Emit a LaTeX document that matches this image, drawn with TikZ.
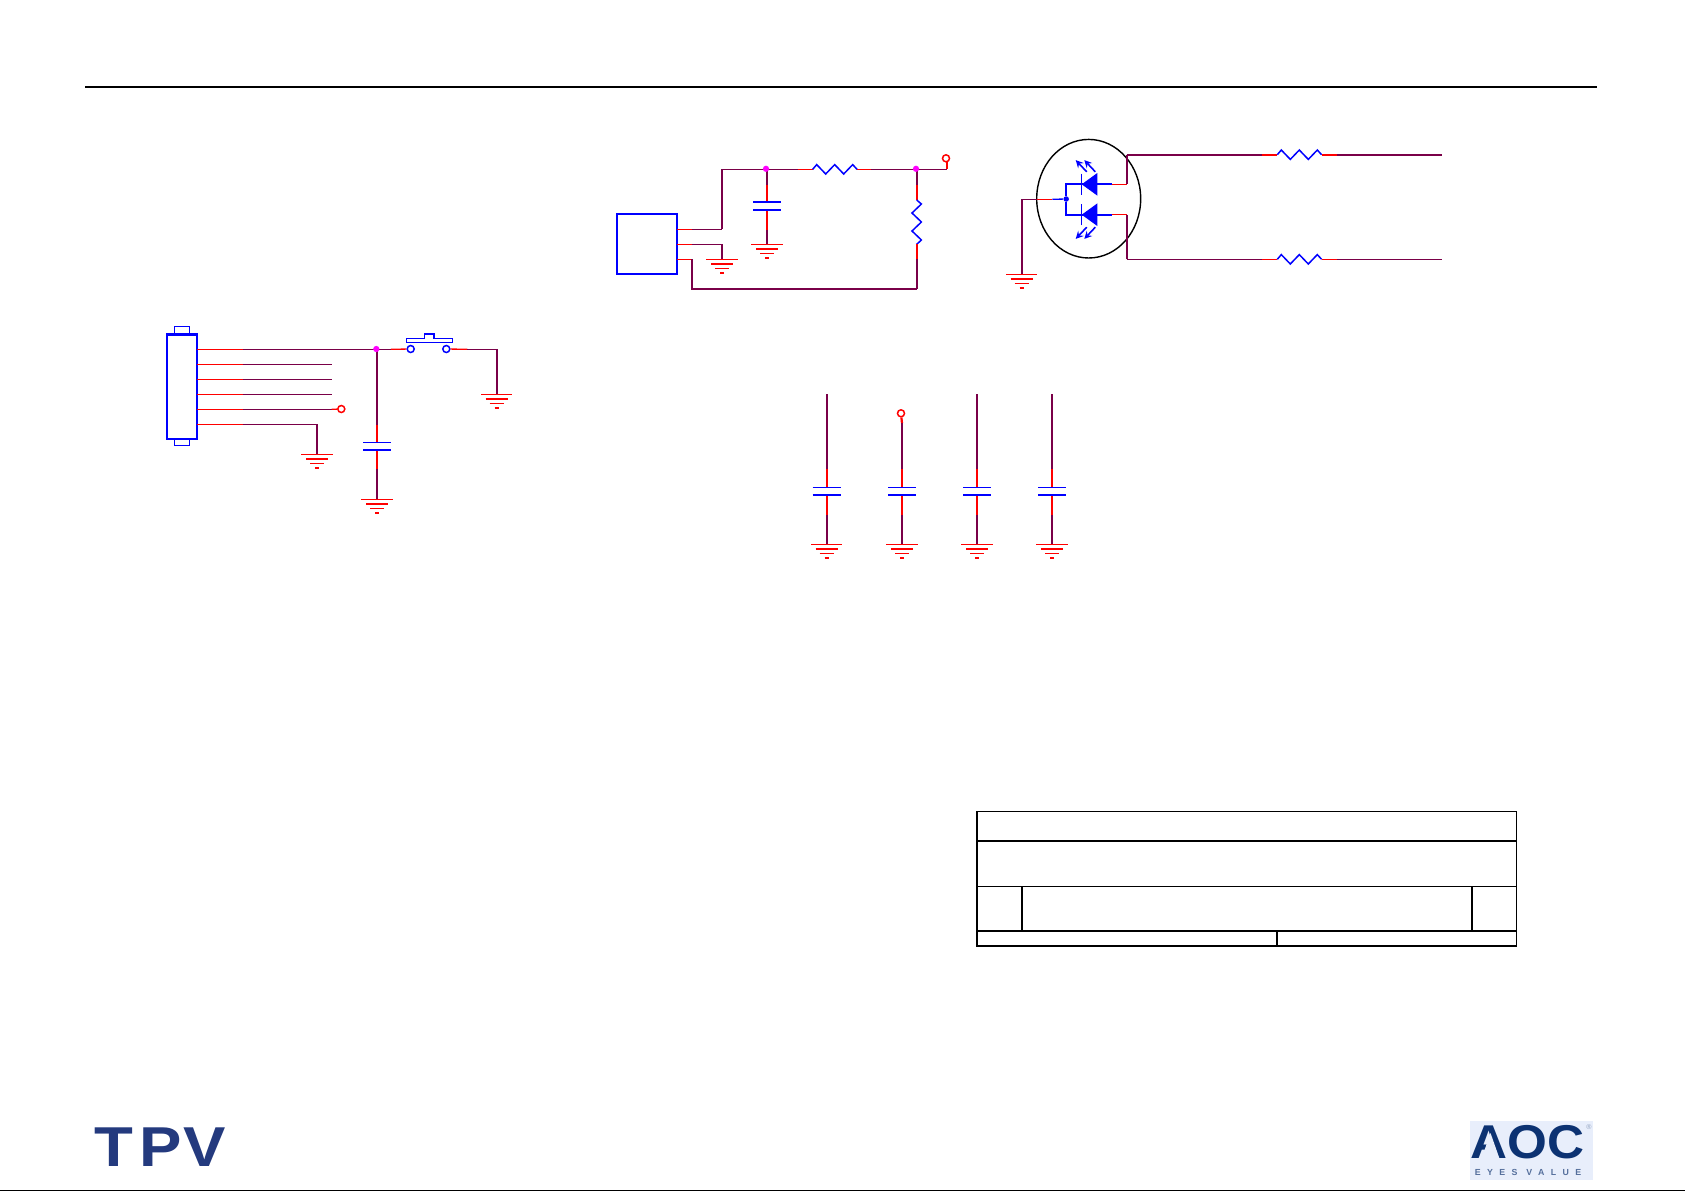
\documentclass[tikz,border=0pt]{standalone}
\usepackage{fontspec}
\usetikzlibrary{arrows}
\usetikzlibrary{positioning}
\usetikzlibrary{shapes.geometric}
\newfontfamily\logofont{Liberation Sans}
\newfontfamily\logowide[LetterSpace=73]{Liberation Sans}
\definecolor{wirepurple}{HTML}{7A0048}
\definecolor{dotmagenta}{HTML}{FF00FF}
\definecolor{tpvblue}{HTML}{243A7E}
\definecolor{aocblue}{HTML}{0C3272}
\definecolor{aocback}{HTML}{E8EEFB}
\tikzset{
  wire/.style={draw=wirepurple, line width=0.75pt},
  wirefat/.style={draw=wirepurple, line width=1.25pt},
  stub/.style={draw=red, line width=0.75pt},
  stubfat/.style={draw=red, line width=1.25pt},
  partline/.style={draw=blue, line width=0.75pt},
  partfat/.style={draw=blue, line width=1.3pt},
  sheetline/.style={draw=black, line width=0.9pt},
  junction/.style={circle, fill=dotmagenta, inner sep=0pt, minimum size=0.125cm},
  terminal/.style={circle, draw=red, fill=white, line width=0.85pt, inner sep=0pt, minimum size=0.14cm},
  contact/.style={circle, draw=blue, fill=white, line width=0.85pt, inner sep=0pt, minimum size=0.14cm},
  gndsym/.pic={
    \draw[stub] (-15.7,0) -- (15.7,0);
    \draw[stubfat] (-11,4.7) -- (11,4.7);
    \draw[stub] (-7,9) -- (7,9);
    \draw[stubfat] (-2,13.7) -- (2,13.7);
  },
  capsym/.pic={
    \draw[partline] (-14,0) -- (14,0);
    \draw[partfat] (-14,7.7) -- (14,7.7);
  },
  ressym/.pic={
    \draw[partline, line width=0.85pt] (0,0) -- (4,-4.7) -- (13,4.7) -- (22,-4.7) -- (31,4.7) -- (40,-4.7) -- (44.3,0);
  },
  ledsym/.pic={
    \fill[blue] (0,0) -- (15.6,-11.3) -- (15.6,11.3) -- cycle;
    \draw[partline, line width=0.9pt] (0,-10.7) -- (0,10.7);
    \draw[partline, line width=0.9pt, -stealth] (5,-12.5) -- (-6,-24.2);
    \draw[partline, line width=0.9pt, -stealth] (13.6,-12.5) -- (2.6,-24.2);
  },
}
\begin{document}
\begin{tikzpicture}[x=0.02cm, y=-0.02cm]
    \useasboundingbox (0,0) rectangle (1685,1191);
    \coordinate (ruleL) at (85,87);
    \coordinate (ruleR) at (1597,87);
    \draw[black, line width=1.2pt] (ruleL) -- (ruleR);
    \coordinate (edgeL) at (0,1190.6);
    \coordinate (edgeR) at (1685,1190.6);
    \draw[black, line width=0.5pt] (edgeL) -- (edgeR);

    \node[draw=blue, line width=1.25pt, inner sep=0pt, minimum width=0.606cm, minimum height=2.09cm] (cn1) at (181.85,386.65) {};
    \draw[partline] (174.3,334.3) |- (189.7,326.7) -- (189.7,334.3);
    \draw[partline] (174.3,439) |- (189.7,445.3) -- (189.7,439);
    \foreach \i/\ypin in {1/349.3,2/364.3,3/379.3,4/394.3,5/409.3,6/424.3}{
      \coordinate (cn1p\i) at (197,\ypin);
      \coordinate (cn1m\i) at (242.7,\ypin);
      \draw[stub] (cn1p\i) -- (cn1m\i);
    }
    \foreach \i/\ypin in {2/364.3,3/379.3,4/394.3}{
      \coordinate (cn1e\i) at (332.3,\ypin);
      \draw[wire] (cn1m\i) -- (cn1e\i);
    }
    \node[terminal] (cn1t) at (341.3,409) {};
    \coordinate (cn1e5) at (331.7,409.3);
    \draw[wire] (cn1m5) -- (cn1e5);
    \draw[stub] (cn1e5) -- (cn1t);
    \coordinate (g1) at (317,454.3);
    \draw[wire] (cn1m6) -- (g1 |- cn1m6);
    \draw[wirefat] (g1 |- cn1m6) -- (g1);
    \pic at (g1) {gndsym};

    \coordinate (c1a) at (377,425);
    \coordinate (c1t) at (377,442.3);
    \coordinate (c1b) at (377,450);
    \coordinate (c1c) at (377,469);
    \coordinate (g2) at (377,499.3);
    \coordinate (sw1a) at (391,349.3);
    \draw[wire] (cn1m1) -- (sw1a);
    \draw[wirefat] (377,349.3) -- (c1a);
    \node[junction] (j1) at (376.3,349) {};
    \draw[stubfat] (c1a) -- (c1t);
    \draw[stubfat] (c1b) -- (c1c);
    \draw[wirefat] (c1c) -- (g2);
    \pic at (c1t) {capsym};
    \pic at (g2) {gndsym};

    \node[contact] (sw1l) at (410.7,349) {};
    \node[contact] (sw1r) at (446.3,349) {};
    \draw[partline, line width=0.85pt] (406.7,338.7) -- (424.7,338.7) -- (424.7,334) -- (434,334) -- (434,338.7) -- (452.3,338.7) -- (452.3,342.3) -- (406.7,342.3) -- cycle;
    \coordinate (sw1b) at (467.3,349.3);
    \coordinate (g3) at (496.7,394.3);
    \draw[stub] (sw1a) -- (sw1l);
    \draw[stub] (sw1r) -- (sw1b);
    \draw[wire] (sw1b) -- (g3 |- sw1b);
    \draw[wirefat] (g3 |- sw1b) -- (g3);
    \pic at (g3) {gndsym};

    \node[draw=blue, line width=1.25pt, inner sep=0pt, minimum width=1.212cm, minimum height=1.2cm] (u1) at (647,244.3) {};
    \foreach \i/\ypin in {1/229.3,2/244.3,3/259.3}{
      \coordinate (u1p\i) at (677.3,\ypin);
      \coordinate (u1m\i) at (691.7,\ypin);
      \draw[stub] (u1p\i) -- (u1m\i);
    }
    \node[terminal] (t2) at (946,158.3) {};
    \coordinate (u1c) at (722,169.3);
    \coordinate (r1a) at (797.7,169.3);
    \coordinate (r1l) at (812.7,169.3);
    \coordinate (r1r) at (857,169.3);
    \coordinate (r1b) at (871,169.3);
    \coordinate (t2c) at (946.7,169.3);
    \coordinate (t2d) at (946.7,162);
    \draw[wire] (u1m1) -- (u1c |- u1m1);
    \draw[wirefat] (u1c |- u1m1) -- (u1c);
    \draw[wire] (u1c) -- (r1a);
    \draw[stub] (r1a) -- (r1l);
    \pic at (r1l) {ressym};
    \draw[stub] (r1r) -- (r1b);
    \draw[wire] (r1b) -- (t2c);
    \draw[stubfat] (t2c) -- (t2d);

    \coordinate (c2a) at (767,185);
    \coordinate (c2t) at (767,202);
    \coordinate (c2b) at (767,210);
    \coordinate (c2c) at (767,230);
    \coordinate (g4) at (767,244.3);
    \draw[wirefat] (767,169.3) -- (c2a);
    \node[junction] (j2) at (766,168.8) {};
    \draw[stubfat] (c2a) -- (c2t);
    \draw[stubfat] (c2b) -- (c2c);
    \draw[wirefat] (c2c) -- (g4);
    \pic at (c2t) {capsym};
    \pic at (g4) {gndsym};

    \coordinate (g5) at (722,259.3);
    \draw[wire] (u1m2) -- (g5 |- u1m2);
    \draw[wirefat] (g5 |- u1m2) -- (g5);
    \pic at (g5) {gndsym};

    \coordinate (r2a) at (916.7,185);
    \coordinate (r2t) at (916.7,200);
    \coordinate (r2b) at (916.7,244.3);
    \coordinate (r2c) at (916.7,259.3);
    \coordinate (u1d) at (691.7,289.3);
    \coordinate (r2d) at (916.7,289.3);
    \draw[wirefat] (916.7,169.3) -- (r2a);
    \node[junction] (j3) at (916,168.8) {};
    \draw[stubfat] (r2a) -- (r2t);
    \pic[rotate=-90] at (r2t) {ressym};
    \draw[stubfat] (r2b) -- (r2c);
    \draw[wirefat] (r2c) -- (r2d);
    \draw[wirefat] (r2d) -- (u1d) -- (u1m3);

    \node[draw=black, line width=0.8pt, ellipse, inner sep=0pt, minimum width=2.08cm, minimum height=2.372cm] (led1) at (1088.7,198.7) {};
    \coordinate (d1k) at (1081.7,184.3);
    \coordinate (d2k) at (1081.7,214.7);
    \coordinate (d1a) at (1111.7,184.3);
    \coordinate (d2a) at (1111.7,214.7);
    \coordinate (d1b) at (1126.7,184.3);
    \coordinate (d2b) at (1126.7,214.7);
    \coordinate (d1c) at (1126.7,154.7);
    \coordinate (d2c) at (1126.7,259.3);
    \coordinate (comL) at (1052.3,199.3);
    \coordinate (comM) at (1036.7,199.3);
    \coordinate (g6) at (1021.7,274.3);
    \node[circle, fill=blue, inner sep=0pt, minimum size=0.11cm] (j4) at (1066.2,199) {};
    \draw[partfat] (d1k) -| (j4) |- (d2k);
    \draw[partline] (comL) -- (j4);
    \draw[stub] (comL) -- (comM);
    \draw[wire] (comM) -- (g6 |- comM);
    \draw[wirefat] (g6 |- comM) -- (g6);
    \pic at (g6) {gndsym};
    \pic at (d1k) {ledsym};
    \pic[yscale=-1] at (d2k) {ledsym};
    \draw[partfat] (d1k) -- (d1a);
    \draw[partfat] (d2k) -- (d2a);
    \draw[stub] (d1a) -- (d1b);
    \draw[stub] (d2a) -- (d2b);

    \foreach \n/\ywire/\wstyle/\sstyle in {1/154.7/wirefat/stubfat,2/259.3/wire/stub}{
      \coordinate (rl\n a) at (1262.3,\ywire);
      \coordinate (rl\n l) at (1277.3,\ywire);
      \coordinate (rl\n r) at (1321.7,\ywire);
      \coordinate (rl\n b) at (1337.3,\ywire);
      \coordinate (rl\n e) at (1442.3,\ywire);
      \draw[\wstyle] (d\n c) -- (rl\n a);
      \draw[\sstyle] (rl\n a) -- (rl\n l);
      \pic at (rl\n l) {ressym};
      \draw[\sstyle] (rl\n r) -- (rl\n b);
      \draw[\wstyle] (rl\n b) -- (rl\n e);
    }
    \draw[wirefat] (d1b) -- (d1c);
    \draw[wirefat] (d2b) -- (d2c);

    \foreach \n/\xcap in {3/826.7,4/902,5/977,6/1052}{
      \coordinate (c\n s) at (\xcap,394);
      \coordinate (c\n a) at (\xcap,469.3);
      \coordinate (c\n t) at (\xcap,487.3);
      \coordinate (c\n b) at (\xcap,495);
      \coordinate (c\n c) at (\xcap,515);
      \coordinate (c\n g) at (\xcap,544.3);
      \draw[stubfat] (c\n a) -- (c\n t);
      \draw[stubfat] (c\n b) -- (c\n c);
      \draw[wirefat] (c\n c) -- (c\n g);
      \pic at (c\n t) {capsym};
      \pic at (c\n g) {gndsym};
    }
    \draw[wirefat] (c3s) -- (c3a);
    \draw[wirefat] (c5s) -- (c5a);
    \draw[wirefat] (c6s) -- (c6a);
    \node[terminal] (t3) at (901,413.3) {};
    \coordinate (t3w) at (902,423.3);
    \draw[stubfat] (t3) -- (t3w);
    \draw[wirefat] (t3w) -- (c4a);

    \draw[sheetline] (976.8,811.3) rectangle (1516.5,945.8);
    \draw[sheetline] (976.8,840.8) -- (1516.5,840.8);
    \draw[sheetline] (976.8,886.3) -- (1516.5,886.3);
    \draw[sheetline] (976.8,931) -- (1516.5,931);
    \draw[sheetline] (1022,886.3) -- (1022,931);
    \draw[sheetline] (1472,886.3) -- (1472,931);
    \draw[sheetline] (1277,931) -- (1277,945.8);

    \node[text=tpvblue, inner sep=0pt, xscale=1.13, transform shape] (tpvlogo) at (160.5,1147) {\logofont\bfseries\fontsize{32}{32}\selectfont T\hspace{3pt}P\hspace{1pt}V};
    \fill[aocback] (1470,1121) rectangle (1593,1180);
    \node[text=aocblue, inner sep=0pt, xscale=1.08, transform shape] (aoclogo) at (1527.5,1142.5) {\logofont\bfseries\fontsize{27}{27}\selectfont AOC};
    \fill[aocback] (1490.5,1133) -- (1481,1160) -- (1500,1160) -- cycle;
    \node[text=aocblue!70, inner sep=0pt] (aoctag) at (1528,1172) {\logowide\bfseries\fontsize{5}{5}\selectfont EYES VALUE};
    \node[text=aocblue!45, inner sep=0pt] (aocreg) at (1589,1127) {\logofont\fontsize{4}{4}\selectfont ®};
\end{tikzpicture}
\end{document}
